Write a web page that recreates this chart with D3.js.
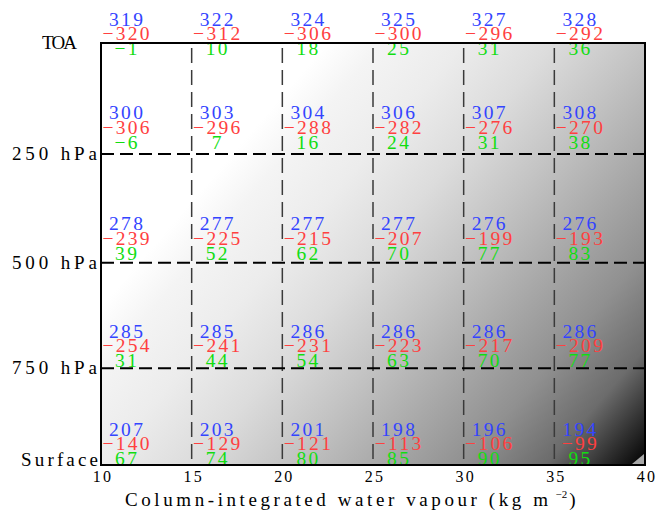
<!DOCTYPE html>
<html>
<head>
<meta charset="utf-8">
<script src="https://cdn.jsdelivr.net/npm/d3@7"></script>
<style>
  html, body { margin: 0; padding: 0; background: #fff; }
  svg { display: block; }
  text { font-family: "Liberation Serif", "DejaVu Serif", serif; }
</style>
</head>
<body>
<svg id="chart" width="659" height="511"></svg>
<script>
// ---- data ----
const waterVapour = [10, 15, 20, 25, 30, 35];          // kg m-2 (column start)
const xTicks = [10, 15, 20, 25, 30, 35, 40];
const levelNames = ["TOA", "250 hPa", "500 hPa", "750 hPa", "Surface"];
const levelPressure = [0, 250, 500, 750, 1000];
// blue values (upper numbers)
const blueVals = [
  [319, 322, 324, 325, 327, 328],
  [300, 303, 304, 306, 307, 308],
  [278, 277, 277, 277, 276, 276],
  [285, 285, 286, 286, 286, 286],
  [207, 203, 201, 198, 196, 194]
];
// red values (middle numbers)
const redVals = [
  [-320, -312, -306, -300, -296, -292],
  [-306, -296, -288, -282, -276, -270],
  [-239, -225, -215, -207, -199, -193],
  [-254, -241, -231, -223, -217, -209],
  [-140, -129, -121, -113, -106, -99]
];
// green values (lower numbers)
const greenVals = [
  [-1, 10, 18, 25, 31, 36],
  [-6, 7, 16, 24, 31, 38],
  [39, 52, 62, 70, 77, 83],
  [31, 44, 54, 63, 70, 77],
  [67, 74, 80, 85, 90, 95]
];

// ---- layout ----
const plot = { left: 101, right: 645, top: 43, bottom: 465 };
const levelFrac = [0, 0.263, 0.521, 0.771, 1];
const rowGreenOffset = [12, -5, -3, -1, 0];
const textDx = 25;
const numLS = 2.3;
const colors = { blue: "#3344ff", red: "#ff4040", green: "#11dd11" };

const svg = d3.select("#chart");

const x = d3.scaleLinear().domain([10, 40]).range([plot.left, plot.right]);
const y = d3.scaleLinear()
  .domain(levelPressure)
  .range(levelFrac.map(f => plot.top + f * (plot.bottom - plot.top)));

// background gradient
const defs = svg.append("defs");
const grad = defs.append("linearGradient")
  .attr("id", "bg")
  .attr("x1", 0).attr("y1", 0).attr("x2", 1.154).attr("y2", 0.769);
[[0, "#ffffff"], [0.25, "#ffffff"], [0.31, "#f4f4f4"], [0.4, "#ececec"], [0.5, "#dcdcdc"],
 [0.6, "#c4c4c4"], [0.8, "#909090"], [0.89, "#6c6c6c"], [0.95, "#303030"], [1, "#000000"]]
  .forEach(([o, c]) => grad.append("stop").attr("offset", o).attr("stop-color", c));

svg.append("rect")
  .attr("x", x(10)).attr("y", y(0))
  .attr("width", x(40) - x(10)).attr("height", y(1000) - y(0))
  .attr("fill", "url(#bg)");

// small corner artifact
svg.append("path")
  .attr("d", `M${x(40) - 13},${y(1000) - 1}L${x(40) - 1},${y(1000) - 1}L${x(40) - 1},${y(1000) - 11}Z`)
  .attr("fill", "#a8a8a8");

// vertical dashed lines
svg.append("g").selectAll("line")
  .data(xTicks.slice(1, -1))
  .join("line")
  .attr("x1", d => x(d)).attr("x2", d => x(d))
  .attr("y1", y(0)).attr("y2", y(1000))
  .attr("stroke", "#3a3a3a").attr("stroke-width", 1.5)
  .attr("stroke-dasharray", "15,7")
  .attr("stroke-dashoffset", -5);

// horizontal dashed lines
svg.append("g").selectAll("line")
  .data(levelPressure.slice(1, -1))
  .join("line")
  .attr("x1", x(10)).attr("x2", x(40))
  .attr("y1", d => y(d)).attr("y2", d => y(d))
  .attr("stroke", "#000").attr("stroke-width", 2)
  .attr("stroke-dasharray", "13,6");

// numbers
const cells = [];
levelPressure.forEach((p, r) => {
  waterVapour.forEach((w, c) => {
    cells.push({ p, r, w, blue: blueVals[r][c], red: redVals[r][c], green: greenVals[r][c] });
  });
});
const fmt = v => (v < 0 ? "\u2212" + Math.abs(v) : String(v));
const cg = svg.append("g").attr("font-size", 19.5).attr("text-anchor", "middle")
  .attr("letter-spacing", numLS);
const cx = d => x(d.w) + textDx + numLS / 2;
cg.selectAll("text.b").data(cells).join("text").attr("class", "b")
  .attr("x", cx)
  .attr("y", d => y(d.p) + rowGreenOffset[d.r] - 29.5)
  .attr("fill", colors.blue).text(d => fmt(d.blue));
cg.selectAll("text.r").data(cells).join("text").attr("class", "r")
  .attr("x", cx)
  .attr("y", d => y(d.p) + rowGreenOffset[d.r] - 15)
  .attr("fill", colors.red).text(d => fmt(d.red));
cg.selectAll("text.g").data(cells).join("text").attr("class", "g")
  .attr("x", cx)
  .attr("y", d => y(d.p) + rowGreenOffset[d.r])
  .attr("fill", colors.green).text(d => fmt(d.green));

// frame
svg.append("rect")
  .attr("x", x(10)).attr("y", y(0))
  .attr("width", x(40) - x(10)).attr("height", y(1000) - y(0))
  .attr("fill", "none").attr("stroke", "#000").attr("stroke-width", 2);

// y labels
const labelDy = [6, 6, 6.5, 6, 1];
const labelEnd = [77, 97, 97, 97, 98];
const labelWidth = [35, 85, 85, 85, 77];
svg.append("g").attr("font-size", 19).attr("fill", "#000")
  .selectAll("text").data(levelNames).join("text")
  .attr("x", (d, i) => labelEnd[i] - labelWidth[i])
  .attr("y", (d, i) => y(levelPressure[i]) + labelDy[i])
  .attr("textLength", (d, i) => labelWidth[i])
  .attr("lengthAdjust", "spacing")
  .text(d => d);

// x tick labels
const xAxis = d3.axisBottom(x).tickValues(xTicks).tickSize(0).tickPadding(5);
const xg = svg.append("g").attr("transform", `translate(0,${plot.bottom})`).call(xAxis);
xg.select(".domain").remove();
xg.selectAll("text")
  .attr("font-family", "Liberation Serif, serif")
  .attr("font-size", 16).attr("fill", "#000")
  .attr("letter-spacing", 2.2)
  .attr("x", 1.5)
  .attr("dy", 0).attr("y", 17);

// x title
const title = svg.append("text")
  .attr("x", 125).attr("y", 506)
  .attr("font-size", 19).attr("fill", "#000");
title.append("tspan").attr("textLength", 423).attr("lengthAdjust", "spacing")
  .text("Column-integrated water vapour (kg m");
title.append("tspan").attr("font-size", 11).attr("dx", 4).attr("dy", -8).text("\u22122");
title.append("tspan").attr("dx", 2).attr("dy", 8).text(")");
</script>
</body>
</html>
